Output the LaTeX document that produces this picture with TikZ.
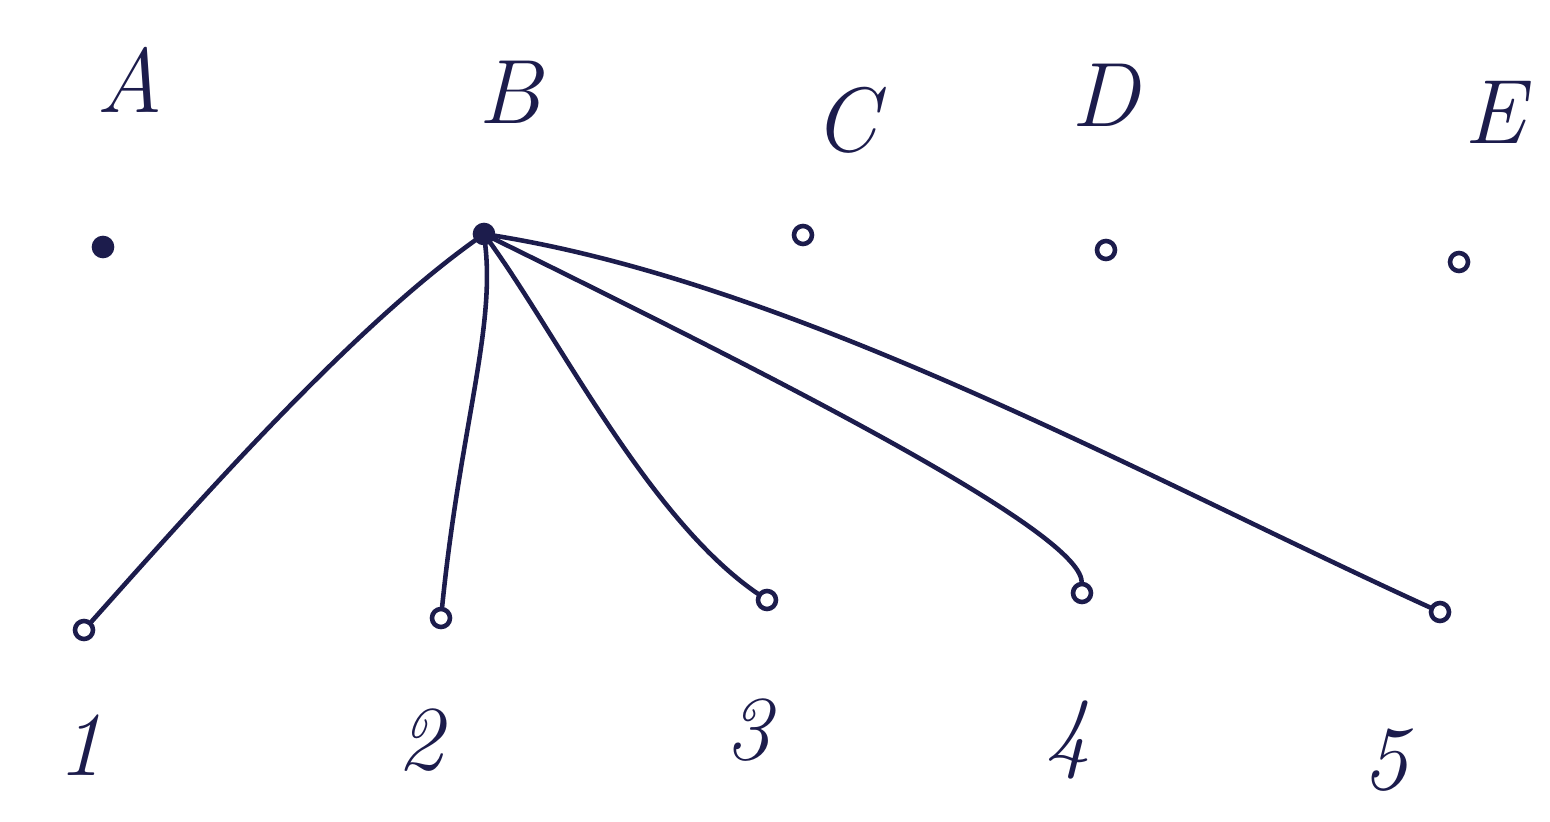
\documentclass[tikz,border=0pt]{standalone}
\begin{document}
\begin{tikzpicture}[x=0.02cm,y=-0.02cm,
  ink/.style={draw=inkc,line width=2.6pt,line cap=round},
  vert/.style={circle,draw=inkc,line width=2.6pt,fill=white,inner sep=0pt,minimum size=0.36cm},
  lab/.style={text=inkc,font=\fontsize{52}{60}\selectfont\itshape},
]
\definecolor{inkc}{HTML}{1C1C4C}
\useasboundingbox (0,0) rectangle (1550,821);
% top vertices
\node[vert,fill=inkc] (A) at (103,247) {};
\node[vert,fill=inkc] (B) at (484,234) {};
\node[vert] (C) at (803,235) {};
\node[vert] (D) at (1106,250) {};
\node[vert] (E) at (1459,262) {};
% bottom vertices
\node[vert] (n1) at (84,630) {};
\node[vert] (n2) at (441,618) {};
\node[vert] (n3) at (767,600) {};
\node[vert] (n4) at (1082,593) {};
\node[vert] (n5) at (1440,612) {};
% labels
\node[lab] (lA) at (130,80) {A};
\node[lab] (lB) at (510,92) {B};
\node[lab] (lC) at (845,120) {C};
\node[lab] (lD) at (1105,95) {D};
\node[lab] (lE) at (1495,112) {E};
\node[lab] (l1) at (80,745) {1};
\node[lab] (l2) at (420,740) {2};
\node[lab] (l3) at (748,730) {3};
\node[lab] (l4) at (1068,740) {4};
\node[lab] (l5) at (1385,760) {5};
% edges
\draw[ink] (B) .. controls (350,330) and (200,500) .. (n1);
\draw[ink] (B) .. controls (495,330) and (460,430) .. (n2);
\draw[ink] (B) .. controls (560,340) and (650,520) .. (n3);
\draw[ink] (B) .. controls (760,370) and (1080,530) .. (n4);
\draw[ink] (B) .. controls (800,285) and (1150,480) .. (n5);
\end{tikzpicture}
\end{document}
